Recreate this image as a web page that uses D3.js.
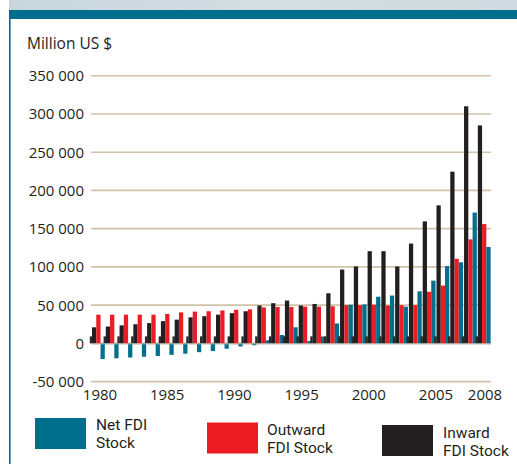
<!DOCTYPE html>
<html>
<head>
<meta charset="utf-8">
<script src="https://cdn.jsdelivr.net/npm/d3@7"></script>
<style>
  html, body { margin: 0; padding: 0; background: #fff; }
  svg { display: block; }
  text { font-family: "Open Sans", "Noto Sans", sans-serif; fill: #231f20; }
  text.leg { font-family: Roboto, "Liberation Sans", sans-serif; }
</style>
</head>
<body>
<svg id="chart" width="517" height="464"></svg>
<script>
// ---- data ----
const years = d3.range(1980, 2009);
const inward = [21000, 22000, 23500, 25000, 26500, 29000, 31000, 34000, 35500, 37500, 39500, 42000, 49500, 52500, 56000, 49500, 51500, 65500, 96500, 100500, 120500, 120500, 100500, 130500, 159500, 180500, 224500, 310000, 285000];
const outward = [37500, 37500, 37500, 37500, 37500, 38500, 40500, 41500, 42000, 43000, 44000, 44500, 47000, 47500, 47500, 48000, 48000, 48500, 50000, 50000, 50500, 49500, 50000, 50000, 67500, 75500, 110500, 136000, 156000];
const net = [-20500, -19500, -18500, -17500, -16500, -15000, -13500, -11500, -10000, -7000, -4000, -2500, 4000, 11000, 21000, 3000, 9000, 26000, 50500, 51000, 61000, 62500, 48000, 68000, 82000, 101000, 106000, 171000, 126000];
const yTicks = [-50000, 0, 50000, 100000, 150000, 200000, 250000, 300000, 350000];
const xTickYears = [1980, 1985, 1990, 1995, 2000, 2005, 2008];
const seriesKeys = ["inward", "outward", "net"];
const legendKeys = ["net", "outward", "inward"];
const seriesLabels = [["Net FDI", "Stock"], ["Outward", "FDI Stock"], ["Inward", "FDI Stock"]];

const colors = { inward: "#231f20", outward: "#ed1c24", net: "#006f8e" };
const teal = "#006d8f";

const svg = d3.select("#chart");

// ---- frame ----
const banner = svg.append("defs").append("linearGradient").attr("id", "bn");
banner.append("stop").attr("offset", "0%").attr("stop-color", "#c9d6dd");
banner.append("stop").attr("offset", "50%").attr("stop-color", "#d3dee3");
banner.append("stop").attr("offset", "100%").attr("stop-color", "#cfdbe0");
svg.append("rect").attr("x", 9).attr("y", 0).attr("width", 508).attr("height", 10).attr("fill", "url(#bn)");
svg.append("rect").attr("x", 9).attr("y", 10).attr("width", 508).attr("height", 9).attr("fill", teal);
svg.append("rect").attr("x", 9).attr("y", 19).attr("width", 1.6).attr("height", 445).attr("fill", teal);

// ---- scales ----
const x = d3.scaleBand().domain(years).range([91.4, 491]).padding(0);
const x1 = d3.scaleBand().domain(seriesKeys).range([0.6, 13.4]).padding(0);
const y = d3.scaleLinear().domain([-50000, 350000]).range([381.6, 75.7]);
// label positions along the x axis (labels are spaced slightly differently from bars)
const xLabel = d3.scaleLinear().domain([1980, 2005, 2008]).range([100, 436, 485]);

// y-axis title
svg.append("text").attr("x", 27).attr("y", 49).attr("font-size", 15.5).text("Million US $");

// gridlines
svg.append("g").selectAll("line").data(yTicks).join("line")
  .attr("x1", 91).attr("x2", 491)
  .attr("y1", d => y(d)).attr("y2", d => y(d))
  .attr("stroke", "#cfc4a9").attr("stroke-width", 1.6);

// y tick labels
const fmt = d => d3.format(",")(d).replace(/,/g, " ").replace("\u2212", "-");
svg.append("g").selectAll("text").data(yTicks).join("text")
  .attr("x", 84).attr("y", d => y(d) + 5.5)
  .attr("text-anchor", "end").attr("font-size", 15)
  .text(d => fmt(d));

// x tick labels
svg.append("g").selectAll("text").data(xTickYears).join("text")
  .attr("x", d => xLabel(d))
  .attr("y", 400)
  .attr("text-anchor", "middle").attr("font-size", 15)
  .text(d => d);

// ---- bars ----
const data = years.map((yr, i) => ({ year: yr, inward: inward[i], outward: outward[i], net: net[i] }));
const groups = svg.append("g").selectAll("g").data(data).join("g")
  .attr("transform", d => `translate(${x(d.year)},0)`);

// baseline stubs (3D floor effect)
groups.append("rect")
  .attr("x", -1.6).attr("width", 2.4)
  .attr("y", y(0) - 7).attr("height", 7)
  .attr("fill", "#2b2829");

groups.selectAll("rect.bar").data(d => seriesKeys.map(k => ({ key: k, value: d[k] })))
  .join("rect").attr("class", "bar")
  .attr("x", d => x1(d.key))
  .attr("width", x1.bandwidth())
  .attr("y", d => y(Math.max(0, d.value)))
  .attr("height", d => Math.abs(y(d.value) - y(0)))
  .attr("fill", d => colors[d.key]);

// zero line shadow
svg.append("line").attr("x1", 91).attr("x2", 491)
  .attr("y1", y(0) + 0.5).attr("y2", y(0) + 0.5)
  .attr("stroke", "#b5b3b0").attr("stroke-width", 1);

// ---- legend ----
const legendPos = [
  { bx: 35, by: 418, tx: 96, ty: 430 },
  { bx: 207, by: 422.5, tx: 267, ty: 435 },
  { bx: 382, by: 425, tx: 443, ty: 437.5 }
];
const leg = svg.append("g").selectAll("g").data(legendKeys).join("g");
leg.append("rect")
  .attr("x", (d, i) => legendPos[i].bx).attr("y", (d, i) => legendPos[i].by)
  .attr("width", 51).attr("height", 31)
  .attr("fill", d => colors[d]);
leg.each(function (d, i) {
  seriesLabels[i].forEach((line, j) => {
    d3.select(this).append("text").attr("class", "leg").attr("font-size", 15.5)
      .attr("x", legendPos[i].tx).attr("y", legendPos[i].ty + j * 18.3)
      .text(line);
  });
});
</script>
</body>
</html>
